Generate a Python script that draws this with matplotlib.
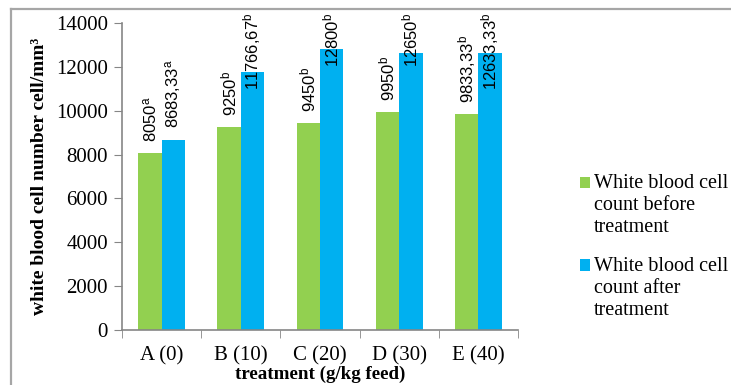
import numpy as np
import matplotlib
matplotlib.use("Agg")
import matplotlib.pyplot as plt
import matplotlib.patches as mpatches
from matplotlib.lines import Line2D
from matplotlib.legend_handler import HandlerPatch
from matplotlib.font_manager import FontProperties

plt.rcParams['mathtext.fontset'] = 'custom'
plt.rcParams['mathtext.rm'] = 'Liberation Sans'
plt.rcParams['mathtext.it'] = 'Liberation Sans'

groups = ['A (0)', 'B (10)', 'C (20)', 'D (30)', 'E (40)']
before = [8050, 9250, 9450, 9950, 9833.33]
after = [8683.33, 11766.67, 12800, 12650, 12633.33]
before_text = ['8050', '9250', '9450', '9950', '9833,33']
after_text = ['8683,33', '11766,67', '12800', '12650', '12633,33']
before_sig = ['a', 'b', 'b', 'b', 'b']
after_sig = ['a', 'b', 'b', 'b', 'b']
series_names = ['White blood cell\ncount before\ntreatment',
                'White blood cell\ncount after\ntreatment']

green = '#92D050'
blue = '#00B0F0'
serif = 'Liberation Serif'

fig = plt.figure(figsize=(7.31, 3.85), dpi=100)
ax = fig.add_axes([0.1669, 0.1429, 0.5417, 0.7974])

x = np.arange(len(groups))
w = 0.295
b1 = ax.bar(x - w / 2, before, w, color=green)
b2 = ax.bar(x + w / 2, after, w, color=blue)

ax.set_xlim(-0.5, len(groups) - 0.5)
ax.set_ylim(0, 14000)
ax.set_yticks(np.arange(0, 14001, 2000))
ax.set_xticks(x)
ax.set_xticklabels(groups)
ax.set_xticks(np.arange(-0.5, len(groups), 1), minor=True)
ax.tick_params(axis='x', which='major', length=0, pad=12)
ax.tick_params(axis='x', which='minor', length=6, color='#868686')
ax.tick_params(axis='y', length=6, color='#868686', pad=4)
for lab in ax.get_xticklabels() + ax.get_yticklabels():
    lab.set_fontfamily(serif)
    lab.set_fontsize(15)

for s in ['top', 'right']:
    ax.spines[s].set_visible(False)
for s in ['left', 'bottom']:
    ax.spines[s].set_color('#868686')
    ax.spines[s].set_linewidth(1.2)

ax.set_ylabel('white blood cell number cell/mm³', fontfamily=serif,
              fontweight='bold', fontsize=14, labelpad=6)
ax.set_xlabel('treatment (g/kg feed)', fontfamily=serif, fontweight='bold',
              fontsize=13.7, labelpad=0)

# value labels above the bars; pulled down when they would run off the top
fig.canvas.draw()
renderer = fig.canvas.get_renderer()
top_limit = ax.transAxes.transform((0, 1))[1] + 10
for xs, vals, txts, sigs in [(x - w / 2, before, before_text, before_sig),
                             (x + w / 2, after, after_text, after_sig)]:
    for xi, v, t, sg in zip(xs, vals, txts, sigs):
        s = t + r'$^{\mathrm{' + sg + '}}$'
        a = ax.annotate(s, xy=(xi, v), xytext=(0, 8), textcoords='offset points',
                        rotation=90, ha='center', va='bottom',
                        fontfamily='Liberation Sans', fontsize=12,
                        annotation_clip=False)
        bb = a.get_window_extent(renderer)
        if bb.y1 > top_limit:
            a.remove()
            ax.annotate(s, xy=(xi, 1), xycoords=('data', 'axes fraction'),
                        xytext=(0, 7.2), textcoords='offset points',
                        rotation=90, ha='center', va='top',
                        fontfamily='Liberation Sans', fontsize=12,
                        annotation_clip=False)


def top_square(legend, orig_handle, xdescent, ydescent, width, height, fontsize):
    return mpatches.Rectangle((-xdescent, -ydescent + fontsize * 1.15),
                              width, height)


leg_font = FontProperties(family=serif, size=14.5)
leg = fig.legend([b1.patches[0], b2.patches[0]], series_names,
                 loc='center left', bbox_to_anchor=(580 / 731, 1 - 247 / 385),
                 frameon=False, prop=leg_font, borderpad=0, borderaxespad=0,
                 handlelength=0.5, handleheight=0.5, handletextpad=0.2,
                 labelspacing=1.0,
                 handler_map={mpatches.Rectangle: HandlerPatch(patch_func=top_square)})

# chart frame (only top and left edges show)
fy = 1 - 9 / 385
fx = 11 / 731
fig.add_artist(Line2D([fx, 1], [fy, fy], color='#A6A6A6', lw=1.6,
                      transform=fig.transFigure))
fig.add_artist(Line2D([fx, fx], [0, fy], color='#A6A6A6', lw=1.6,
                      transform=fig.transFigure))

fig.savefig('out.png', dpi=100)
